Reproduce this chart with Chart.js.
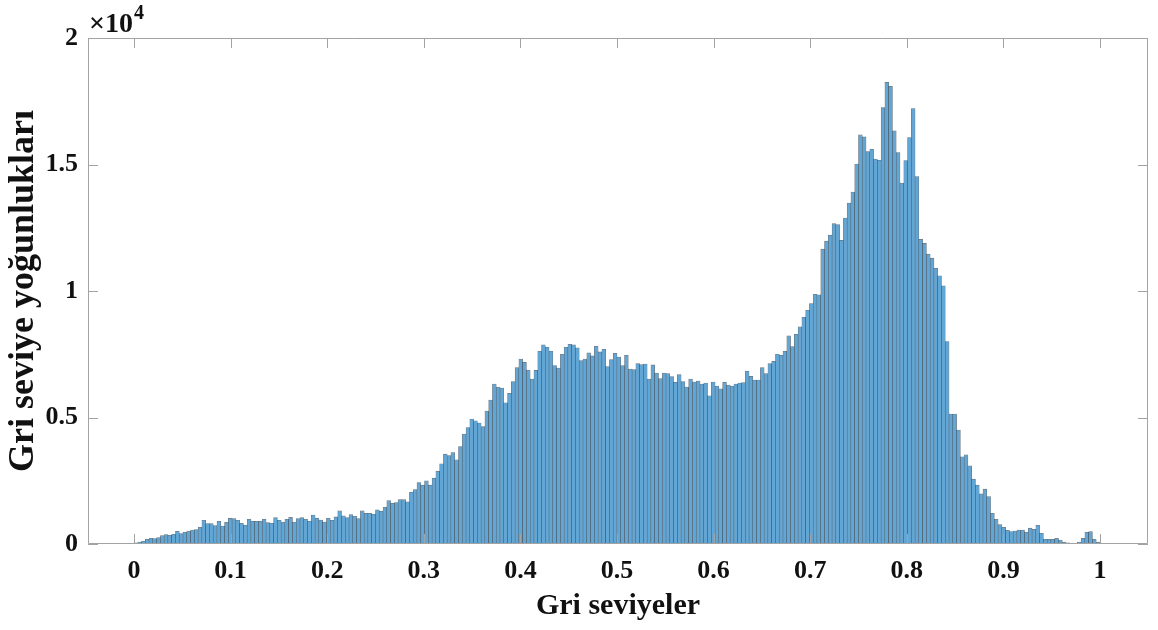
<!DOCTYPE html>
<html>
<head>
<meta charset="utf-8">
<script src="https://cdn.jsdelivr.net/npm/chart.js@4.4.1/dist/chart.umd.min.js"></script>
<style>
  html, body { margin: 0; padding: 0; background: #fff; }
  #wrap { width: 1158px; height: 630px; position: relative; }
</style>
</head>
<body>
<div id="wrap"><canvas id="histChart"></canvas></div>
<script>
// histogram of grey levels, 256 bins between 0 and 1
const binCount = 256;
const counts = [
  51, 79, 119, 186, 226, 210, 249, 329, 368, 345, 384, 503, 408, 463, 515, 554,
  566, 661, 939, 804, 804, 725, 899, 713, 859, 1010, 1002, 939, 820, 741, 978, 899,
  899, 899, 978, 843, 820, 1041, 939, 871, 978, 1057, 871, 1002, 1041, 978, 899, 1148,
  1018, 950, 871, 1018, 939, 1069, 1307, 1109, 1041, 1160, 1097, 1002, 1307, 1216, 1216, 1176,
  1346, 1295, 1453, 1715, 1612, 1635, 1754, 1754, 1663, 2047, 2150, 2427, 2325, 2495, 2325, 2602,
  2879, 3168, 3552, 3497, 3615, 3326, 3853, 4344, 4605, 4938, 4871, 4780, 4645, 5255, 5691, 6324,
  6205, 6166, 5584, 5952, 6415, 6970, 7314, 7179, 6879, 6522, 6863, 7615, 7869, 7773, 7615, 7049,
  6958, 7496, 7773, 7892, 7869, 7750, 7247, 7314, 7552, 7433, 7813, 7591, 7694, 7009, 7286, 7536,
  7393, 7049, 7457, 6918, 6890, 7128, 7088, 7116, 6522, 7077, 6760, 6534, 6760, 6732, 6613, 6387,
  6692, 6415, 6205, 6522, 6403, 6443, 6324, 6364, 5861, 6403, 6245, 6138, 6387, 6285, 6245, 6324,
  6364, 6376, 6839, 6625, 6483, 6483, 6970, 6732, 7128, 7219, 7496, 7457, 7615, 8225, 7801, 8288,
  8581, 8961, 9239, 9504, 9872, 9849, 11654, 11971, 12209, 12660, 12621, 11999, 12882, 13476, 13911, 15020,
  16169, 16089, 15511, 15602, 15218, 15167, 17254, 18244, 18085, 16327, 15472, 14268, 15155, 16066, 17214, 14521,
  12038, 11880, 11456, 11300, 10900, 10600, 10200, 8000, 5136, 5136, 4503, 3445, 3524, 3089, 2562, 2325,
  1980, 2166, 1873, 1216, 978, 764, 661, 543, 487, 515, 554, 554, 463, 626, 582, 741,
  424, 186, 186, 186, 226, 158, 79, 51, 20, 20, 79, 226, 463, 487, 186, 79
];
const xTicks = [0, 0.1, 0.2, 0.3, 0.4, 0.5, 0.6, 0.7, 0.8, 0.9, 1];
const yTicks = [0, 5000, 10000, 15000, 20000];
const xTitle = "Gri seviyeler";
const yTitle = "Gri seviye yoğunlukları";

const binCenters = counts.map((c, i) => (i + 0.5) / binCount);
const points = counts.map((c, i) => ({ x: binCenters[i], y: c }));

const serif = "'Liberation Serif', 'Times New Roman', serif";
const textColor = "#111";

// box, inward ticks and the x10^4 exponent like MATLAB
const axesBox = {
  id: "axesBox",
  afterDatasetsDraw(chart) {
    const { ctx, chartArea: a, scales } = chart;
    const x = scales.x, y = scales.y;
    const len = 10;
    ctx.save();
    ctx.strokeStyle = "#a3a3a3";
    ctx.lineWidth = 1;
    ctx.beginPath();
    ctx.rect(a.left + 0.5, a.top + 0.5, a.right - a.left - 1, a.bottom - a.top - 1);
    xTicks.forEach(v => {
      const px = Math.round(x.getPixelForValue(v)) + 0.5;
      ctx.moveTo(px, a.bottom);
      ctx.lineTo(px, a.bottom - len);
      ctx.moveTo(px, a.top);
      ctx.lineTo(px, a.top + len);
    });
    yTicks.forEach(v => {
      const py = Math.round(y.getPixelForValue(v)) + 0.5;
      ctx.moveTo(a.left, py);
      ctx.lineTo(a.left + len, py);
      ctx.moveTo(a.right, py);
      ctx.lineTo(a.right - len, py);
    });
    ctx.stroke();

    ctx.fillStyle = textColor;
    ctx.textBaseline = "alphabetic";
    ctx.textAlign = "left";
    ctx.font = "bold 28px " + serif;
    ctx.fillText("\u00d710", a.left + 1, 32);
    const w = ctx.measureText("\u00d710").width;
    ctx.font = "bold 20px " + serif;
    ctx.fillText("4", a.left + 2 + w, 19);
    ctx.restore();
  }
};

new Chart(document.getElementById("histChart"), {
  type: "bar",
  data: {
    datasets: [
      {
        data: points,
        backgroundColor: "rgb(98, 166, 213)",
        borderColor: "rgba(10, 20, 30, 0.6)",
        borderWidth: 0.6,
        borderSkipped: "start",
        barPercentage: 1,
        categoryPercentage: 1
      }
    ]
  },
  options: {
    responsive: true,
    maintainAspectRatio: false,
    animation: false,
    layout: { padding: { top: 38, right: 10, left: 0, bottom: 0 } },
    plugins: {
      legend: { display: false },
      tooltip: { enabled: false }
    },
    scales: {
      x: {
        type: "linear",
        offset: false,
        min: -0.0476,
        max: 1.0497,
        afterBuildTicks: s => { s.ticks = xTicks.map(v => ({ value: v })); },
        afterFit: s => { s.height = 86; },
        grid: { display: false, drawTicks: false, offset: false },
        border: { display: false },
        ticks: {
          padding: 12,
          color: textColor,
          font: { family: serif, size: 26, weight: "bold" },
          callback: v => String(v)
        },
        title: {
          display: true,
          text: xTitle,
          color: textColor,
          font: { family: serif, size: 30, weight: "bold" },
          padding: { top: 0, bottom: 6 }
        }
      },
      y: {
        min: 0,
        max: 20000,
        afterBuildTicks: s => { s.ticks = yTicks.map(v => ({ value: v })); },
        afterFit: s => { s.width = 88; },
        grid: { display: false, drawTicks: false },
        border: { display: false },
        ticks: {
          padding: 10,
          color: textColor,
          font: { family: serif, size: 26, weight: "bold" },
          callback: v => String(v / 10000)
        },
        title: {
          display: true,
          text: yTitle,
          color: textColor,
          font: { family: serif, size: 36, weight: "bold" },
          padding: { top: 2, bottom: 0 }
        }
      }
    }
  },
  plugins: [axesBox]
});
</script>
</body>
</html>
